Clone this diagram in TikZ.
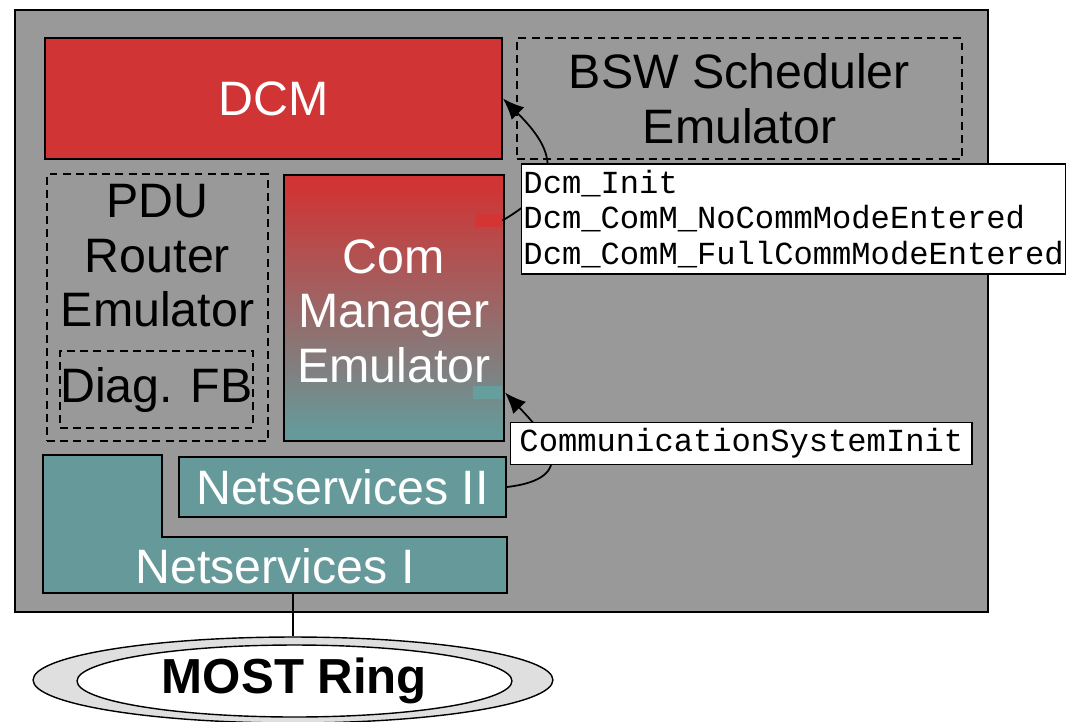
\documentclass[tikz,border=0pt]{standalone}
\usepackage{fontspec}
\setmainfont{Liberation Sans}
\setmonofont{Liberation Mono}
\usetikzlibrary{arrows.meta,shapes.geometric}
\definecolor{dcmred}{RGB}{208,52,52}
\definecolor{portred}{RGB}{212,52,52}
\definecolor{nsteal}{RGB}{102,153,153}
\definecolor{portteal}{RGB}{102,158,158}
\definecolor{ecugray}{RGB}{153,153,153}
\pgfdeclareverticalshading{commgrad}{100bp}{color(0bp)=(nsteal); color(27bp)=(nsteal); color(73bp)=(dcmred); color(100bp)=(dcmred)}
\tikzset {>={Latex[length=12pt,width=10pt]},
  box/.style={draw,line width=1.1pt,inner sep=0pt},
  dashbox/.style={draw,line width=1pt,dash pattern=on 4.5pt off 3pt,inner sep=0pt},
  bigtext/.style={font=\fontsize{27.5}{31}\selectfont,align=center},
  callbox/.style={draw,fill=white,line width=0.8pt,anchor=west,align=left,
    font=\ttfamily\fontsize{18.3}{20.4}\selectfont},
  callarrow/.style={line width=1pt,->}}

\begin{document}
\begin{tikzpicture}[x=0.02cm,y=-0.02cm]
\useasboundingbox (0,0) rectangle (1068,721);

% ECU frame
\draw[line width=1.1pt,fill=ecugray] (15,10) rectangle (988,612);

\node[box,fill=dcmred,text=white,bigtext,minimum width=9.14cm,minimum height=2.42cm]
  (dcm) at (273.5,98.5) {DCM};
\node[dashbox,bigtext,minimum width=8.9cm,minimum height=2.42cm]
  (bsw) at (739.5,98.5) {BSW Scheduler\\Emulator};

\node[dashbox,minimum width=4.42cm,minimum height=5.34cm] (pdu) at (157.5,307.5) {};
\node[bigtext] (pdutext) at (157.5,256) {PDU\\Router\\Emulator};
\node[dashbox,bigtext,minimum width=3.86cm,minimum height=1.54cm]
  (diag) at (156.5,389.5) {Diag. FB};

\node[box,shading=commgrad,text=white,minimum width=4.4cm,minimum height=5.32cm]
  (com) at (394,308) {};
\node[bigtext,text=white] (comtext) at (394,311) {Com\\Manager\\Emulator};

\node[fill=portred,minimum width=0.54cm,minimum height=0.26cm,inner sep=0pt]
  (dcmport) at (488.5,220.5) {};
\node[fill=portteal,minimum width=0.58cm,minimum height=0.26cm,inner sep=0pt]
  (comport) at (487.5,392.5) {};

\node[box,fill=nsteal,text=white,bigtext,minimum width=6.54cm,minimum height=1.2cm]
  (ns2) at (342.5,487) {Netservices II};
\draw[line width=1.1pt,fill=nsteal]
  (43,455) -- (162,455) -- (162,537) -- (507,537) -- (507,593) -- (43,593) -- cycle;
\node[bigtext,text=white] (ns1) at (275,566) {Netservices I};
\coordinate (nsbot) at (293,593);

% calls
\draw[callarrow] (dcmport.east) .. controls +(70,-40) and +(45,45) .. (dcm.east);
\draw[callarrow] (ns2.east) .. controls +(76,-9) and +(40,42) .. (com.east |- comport);

\node[callbox,minimum height=2.12cm,inner xsep=1pt] (dcmcalls) at (521,219)
  {Dcm\_Init\\Dcm\_ComM\_NoCommModeEntered\\Dcm\_ComM\_FullCommModeEntered};
\node[callbox,minimum height=0.7cm,inner xsep=5pt] (comcalls) at (510,443.5)
  {CommunicationSystemInit};

% bus
\node[ellipse,draw,line width=0.8pt,minimum width=10.4cm,minimum height=1.72cm,
  top color=gray!25,middle color=white,bottom color=gray!25] (ring) at (293,680) {};
\node[ellipse,draw,line width=0.8pt,fill=white,minimum width=8.7cm,minimum height=1.44cm,
  inner sep=0pt,font=\bfseries\fontsize{28}{30}\selectfont] (ringin) at (294.5,681) {MOST Ring};
\draw[line width=1.6pt] (nsbot) -- (ring.north);
\end{tikzpicture}
\end{document}
